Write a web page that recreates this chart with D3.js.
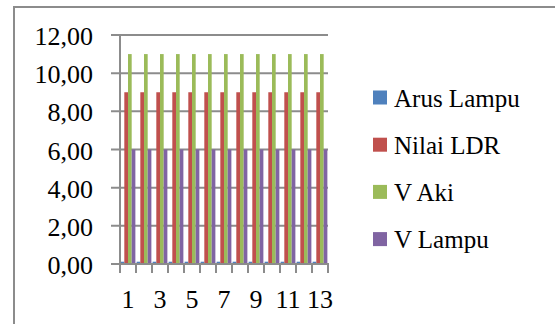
<!DOCTYPE html>
<html><head><meta charset="utf-8">
<script src="https://cdn.jsdelivr.net/npm/d3@7"></script>
<style>body{margin:0;background:#fff}svg{display:block}
svg text{font-family:"Liberation Serif","DejaVu Serif",serif !important;}</style>
</head><body>
<svg id="c" width="555" height="324"></svg>
<script>
const categories = ["1","2","3","4","5","6","7","8","9","10","11","12","13"];
const seriesNames = ["Arus Lampu","Nilai LDR","V Aki","V Lampu"];
const seriesColors = ["#4F81BD","#C0504D","#9BBB59","#8064A2"];
const arusLampu = [0.12,0.12,0.12,0.12,0.12,0.12,0.12,0.12,0.12,0.12,0.12,0.12,0.12];
const nilaiLDR = [9,9,9,9,9,9,9,9,9,9,9,9,9];
const vAki = [11,11,11,11,11,11,11,11,11,11,11,11,11];
const vLampu = [6,6,6,6,6,6,6,6,6,6,6,6,6];
const yTicks = [0,2,4,6,8,10,12];
const xTickLabels = ["1","","3","","5","","7","","9","","11","","13"];

const series = [arusLampu,nilaiLDR,vAki,vLampu];
const svg = d3.select("#c");
const grid = "#8c8c8c";

svg.append("line").attr("x1",14).attr("x2",555).attr("y1",7).attr("y2",7).attr("stroke",grid).attr("stroke-width",2);
svg.append("line").attr("x1",14).attr("x2",14).attr("y1",6).attr("y2",324).attr("stroke",grid).attr("stroke-width",2);

const x0 = d3.scaleBand().domain(categories).range([120,328]).paddingInner(0).paddingOuter(0);
const x1 = d3.scaleBand().domain(seriesNames).range([0,x0.bandwidth()]).paddingOuter(0.17).paddingInner(0);
const y = d3.scaleLinear().domain([0,12]).range([264,35]);

svg.append("g").selectAll("line").data(yTicks).join("line")
  .attr("x1",111).attr("x2",328).attr("y1",d=>y(d)).attr("y2",d=>y(d))
  .attr("stroke",grid).attr("stroke-width",2);

const g = svg.append("g");
series.forEach((vals,si)=>{
  g.selectAll(null).data(vals).join("rect")
    .attr("x",(d,i)=>x0(categories[i])+x1(seriesNames[si]))
    .attr("width",x1.bandwidth())
    .attr("y",d=>y(d))
    .attr("height",d=>y(0)-y(d))
    .attr("fill",seriesColors[si]);
});

svg.append("line").attr("x1",120).attr("x2",120).attr("y1",35).attr("y2",265).attr("stroke",grid).attr("stroke-width",2);
const xAxis = d3.axisBottom(x0).tickSize(0).tickFormat((d,i)=>xTickLabels[i]);
const xa = svg.append("g").attr("transform","translate(0,264)").call(xAxis);
xa.select(".domain").remove();
xa.selectAll("text").attr("font-size",26).attr("fill","#000").attr("y",44).attr("dy",null);
const bounds = categories.map(c=>x0(c)).concat([x0.range()[1]]);
svg.append("g").selectAll("line").data(bounds).join("line")
  .attr("x1",d=>d).attr("x2",d=>d).attr("y1",264).attr("y2",273)
  .attr("stroke",grid).attr("stroke-width",2);
svg.append("line").attr("x1",111).attr("x2",329).attr("y1",264).attr("y2",264).attr("stroke",grid).attr("stroke-width",2);

svg.append("g").selectAll("text").data(yTicks).join("text")
  .attr("x",93).attr("y",d=>y(d)+10).attr("text-anchor","end")
  .attr("font-size",26).attr("fill","#000")
  .text(d=>d.toFixed(2).replace(".",","));

const lg = svg.append("g").selectAll("g").data(seriesNames).join("g")
  .attr("transform",(d,i)=>`translate(373,${97.5+i*47.2})`);
lg.append("rect").attr("x",0).attr("y",-7).attr("width",14).attr("height",14).attr("fill",(d,i)=>seriesColors[i]);
lg.append("text").attr("x",21).attr("y",9).attr("font-size",25).attr("fill","#000").text(d=>d);
</script>
</body></html>
